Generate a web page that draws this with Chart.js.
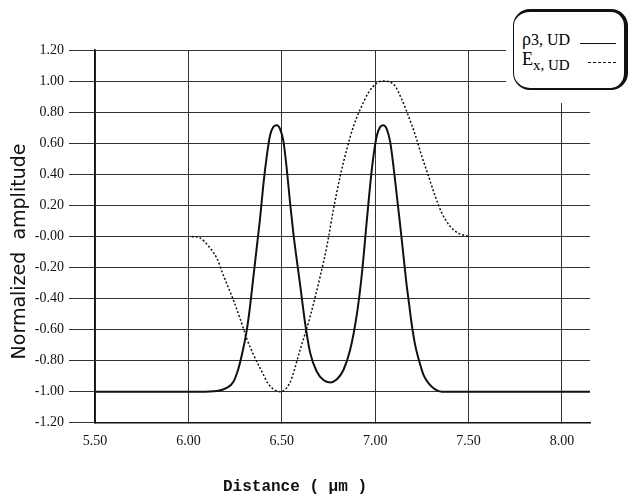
<!DOCTYPE html>
<html>
<head>
<meta charset="utf-8">
<script src="https://cdn.jsdelivr.net/npm/chart.js@4.4.0/dist/chart.umd.min.js"></script>
<style>
  body { margin: 0; background: #fff; }
  #wrap { position: relative; width: 631px; height: 497px; }
  #legend { position: absolute; left: 506px; top: 3px; width: 125px; height: 100px; background: #fff; }
  #legend .box {
    position: absolute; left: 7px; top: 6px; width: 110px; height: 76px;
    border: solid #111; border-width: 3px 4px 2.5px 1.5px; border-radius: 17px;
    font-family: "Liberation Serif", serif; color: #000;
  }
  #legend .row { position: absolute; left: 8px; white-space: nowrap; }
  #legend .sym { position: absolute; left: 66px; width: 36px; border-top: 1.3px solid #111; }
  #legend .sym.dash { left: 74px; width: 28px; border-top: 1.3px dashed #111; }
</style>
</head>
<body>
<div id="wrap">
  <canvas id="myChart" width="631" height="497"></canvas>
  <div id="legend">
    <div class="box">
      <div class="row" style="top:17px;font-size:18px;">&rho;<span style="font-size:16px;">3, UD</span></div>
      <div class="sym" style="top:31px;"></div>
      <div class="row" style="top:37px;font-size:18px;">E<sub style="font-size:15px;">x, UD</sub></div>
      <div class="sym dash" style="top:50px;"></div>
    </div>
  </div>
</div>
<script>
'use strict'

// Axis ticks
const xTickValues = [5.5, 6.0, 6.5, 7.0, 7.5, 8.0];
const xTickLabels = ['5.50', '6.00', '6.50', '7.00', '7.50', '8.00'];
const yTickValues = [-1.2, -1.0, -0.8, -0.6, -0.4, -0.2, 0, 0.2, 0.4, 0.6, 0.8, 1.0, 1.2];
const yTickLabels = ['-1.20', '-1.00', '-0.80', '-0.60', '-0.40', '-0.20', '-0.00',
  '0.20', '0.40', '0.60', '0.80', '1.00', '1.20'];

// rho 3, UD (solid)
const rhoX = [5.500, 6.062, 6.152, 6.205, 6.241, 6.268, 6.294, 6.313, 6.330, 6.348, 6.366,
  6.384, 6.401, 6.420, 6.437, 6.455, 6.473, 6.491, 6.509, 6.527, 6.544, 6.562, 6.580,
  6.598, 6.625, 6.652, 6.687, 6.723, 6.759, 6.795, 6.830, 6.866, 6.902, 6.928, 6.955,
  6.973, 6.991, 7.009, 7.027, 7.044, 7.062, 7.080, 7.098, 7.116, 7.134, 7.151, 7.166,
  7.182, 7.196, 7.214, 7.235, 7.258, 7.285, 7.321, 7.357, 8.151];
const rhoY = [-1.00, -1.00, -0.995, -0.975, -0.935, -0.85, -0.72, -0.60, -0.45, -0.26, -0.07,
  0.12, 0.33, 0.52, 0.65, 0.705, 0.715, 0.69, 0.61, 0.43, 0.22, 0.02, -0.15,
  -0.31, -0.56, -0.75, -0.87, -0.925, -0.94, -0.92, -0.86, -0.73, -0.50, -0.25, 0.10,
  0.33, 0.52, 0.65, 0.705, 0.715, 0.69, 0.61, 0.45, 0.26, 0.07, -0.12, -0.29,
  -0.44, -0.57, -0.70, -0.80, -0.89, -0.945, -0.985, -1.00, -1.00];

// Ex, UD (dotted)
const exX = [6.018, 6.062, 6.116, 6.152, 6.187, 6.214, 6.241, 6.277, 6.313, 6.348, 6.393,
  6.428, 6.464, 6.491, 6.544, 6.598, 6.652, 6.705, 6.741, 6.776, 6.812, 6.848, 6.884,
  6.919, 6.964, 7.012, 7.044, 7.098, 7.143, 7.178, 7.214, 7.250, 7.285, 7.321, 7.357,
  7.401, 7.446, 7.500];
const exY = [0.00, -0.01, -0.075, -0.14, -0.25, -0.33, -0.41, -0.53, -0.66, -0.76, -0.87,
  -0.95, -0.99, -1.00, -0.94, -0.73, -0.515, -0.26, -0.065, 0.17, 0.385, 0.56, 0.71,
  0.815, 0.925, 0.99, 1.00, 0.98, 0.88, 0.775, 0.655, 0.515, 0.39, 0.26, 0.15,
  0.065, 0.02, 0.00];

function toPoints(xs, ys) {
  let pts = [];
  for (let i = 0; i < xs.length; i++) {
    pts.push({ x: xs[i], y: ys[i] });
  }
  return pts;
}

const data = {
  datasets: [{
    label: 'rho 3, UD',
    data: toPoints(rhoX, rhoY),
    borderColor: '#111',
    borderWidth: 2,
    pointRadius: 0,
    cubicInterpolationMode: 'monotone'
  },
  {
    label: 'Ex, UD',
    data: toPoints(exX, exY),
    borderColor: '#111',
    borderWidth: 1.5,
    borderDash: [2, 2],
    pointRadius: 0,
    cubicInterpolationMode: 'monotone'
  }]
};

const config = {
  type: 'line',
  data: data,
  options: {
    responsive: false,
    animation: false,
    layout: { padding: { top: 50, right: 41, left: 0, bottom: 0 } },
    plugins: {
      legend: { display: false },
      tooltip: { enabled: false },
      title: {
        display: true,
        position: 'bottom',
        text: 'Distance ( \u03bcm )',
        color: '#111',
        font: { family: 'Liberation Mono', size: 16, weight: 'bold' },
        padding: { top: 15, bottom: 0 }
      }
    },
    scales: {
      x: {
        type: 'linear',
        min: 5.5,
        max: 8.15,
        afterBuildTicks: (scale) => { scale.ticks = xTickValues.map(v => ({ value: v })); },
        afterFit: (scale) => { scale.height = 40; },
        ticks: {
          callback: (v, i) => xTickLabels[i],
          color: '#111',
          padding: 10,
          maxRotation: 0,
          font: { family: 'Liberation Serif', size: 14 }
        },
        grid: { color: '#333', lineWidth: 1, tickLength: 0 },
        border: { color: '#111', width: 1.5 }
      },
      y: {
        min: -1.2,
        max: 1.2,
        afterBuildTicks: (scale) => { scale.ticks = yTickValues.map(v => ({ value: v })); },
        afterFit: (scale) => { scale.width = 95; },
        ticks: {
          callback: (v, i) => yTickLabels[i],
          color: '#111',
          padding: 5,
          font: { family: 'Liberation Serif', size: 14 }
        },
        grid: { color: '#333', lineWidth: 1, tickLength: 26 },
        border: { color: '#111', width: 1.5 },
        title: {
          display: true,
          text: 'Normalized  amplitude     ',
          color: '#111',
          font: { family: 'DejaVu Sans', size: 19 },
          padding: { top: 9, bottom: 0 }
        }
      }
    }
  }
};

let canvasChart = document.getElementById('myChart');
const myChart = new Chart(canvasChart, config);
</script>
</body>
</html>
